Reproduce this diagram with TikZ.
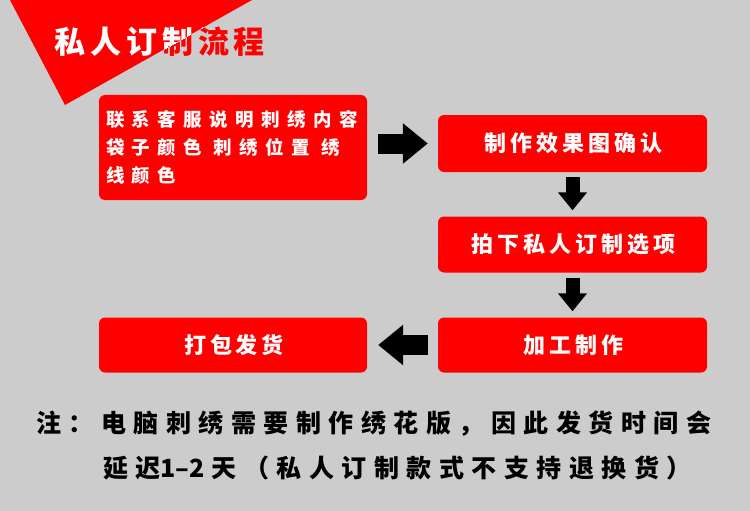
\documentclass[tikz,border=0pt]{standalone}
\usepackage{fontspec}
\newfontfamily\cjk{Noto Sans CJK SC}
\usetikzlibrary{arrows.meta}
\definecolor{bg}{HTML}{CCCCCC}
\definecolor{rd}{HTML}{FF0000}
\begin{document}
\begin{tikzpicture}[x=1pt,y=-1pt,
  box/.style={fill=rd, rounded corners=6pt, inner sep=0pt, text=white},
  boxtxt/.style={font=\cjk\bfseries\fontsize{22}{26}\selectfont\addfontfeature{LetterSpace=18}},
  harrow/.style={line width=20pt, draw=black, -{Triangle[width=39pt,length=25pt]}},
  varrow/.style={line width=14pt, draw=black, -{Triangle[width=28pt,length=18pt]}},
  note/.style={anchor=west, inner sep=0pt, text=black, font=\cjk\bfseries\fontsize{25}{29}\selectfont\addfontfeature{LetterSpace=30}},
  ttl/.style={anchor=west, inner sep=0pt, font=\cjk\bfseries\fontsize{31}{35}\selectfont\addfontfeature{LetterSpace=16}}
]
\fill[bg] (0,0) rectangle (750,511);
\useasboundingbox (0,0) rectangle (750,511);
\fill[rd] (10,0) -- (252,0) -- (65,105) -- cycle;
% title
\node[ttl, text=rd] (titleA) at (54,42) {私人订制流程};
\begin{scope}
\clip (10,0) -- (252,0) -- (65,105) -- cycle;
\node[ttl, text=white] (titleB) at (54,42) {私人订制流程};
\end{scope}
% boxes
\node[box, minimum width=268pt, minimum height=105pt] (b1) at (233,147.5) {};
\node[anchor=west, align=left, inner sep=0pt, text=white, font=\cjk\bfseries\fontsize{18.5}{28}\selectfont\addfontfeature{LetterSpace=40}] (t1) at ([xshift=7pt]b1.west) {联系客服说明刺绣内容\\袋子颜色 刺绣位置 绣\\线颜色};
\node[box, boxtxt, minimum width=269pt, minimum height=57pt] (b2) at (572.5,143.5) {\hspace*{2pt}制作效果图确认};
\node[box, boxtxt, minimum width=269pt, minimum height=56pt] (b3) at (572.5,244.5) {\hspace*{2pt}拍下私人订制选项};
\node[box, boxtxt, minimum width=269pt, minimum height=55pt] (b4) at (572.5,345) {\hspace*{2pt}加工制作};
\node[box, boxtxt, minimum width=268pt, minimum height=55pt] (b5) at (233,345) {\hspace*{2pt}打包发货};
% arrows
\draw[harrow] ([xshift=-60pt]b2.west) -- ([xshift=-10pt]b2.west);
\draw[varrow] ([yshift=-5pt]b2.south) -- ([yshift=6pt]b3.north);
\draw[varrow] ([yshift=-5pt]b3.south) -- ([yshift=6pt]b4.north);
\draw[harrow] ([xshift=-10pt]b4.west) -- ([xshift=11pt]b5.east);
% note
\node[note] (n1) at (36,424) {注：电脑刺绣需要制作绣花版，因此发货时间会};
\node[note] (n2) at (103,468) {延迟{\addfontfeature{LetterSpace=0}1–2}\hspace{7pt}天（私人订制款式不支持退换货）};
\end{tikzpicture}
\end{document}
